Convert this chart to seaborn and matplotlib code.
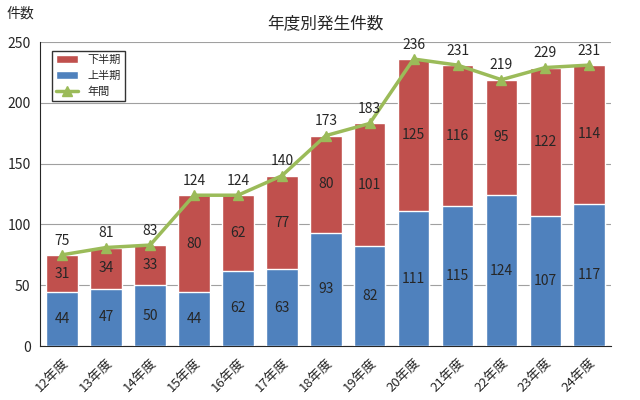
import matplotlib
matplotlib.use("Agg")
import matplotlib.pyplot as plt
import seaborn as sns
import pandas as pd
import numpy as np

sns.set_style("white")
plt.rcParams["font.family"] = "Noto Sans CJK JP"

years = ["12年度","13年度","14年度","15年度","16年度","17年度","18年度","19年度","20年度","21年度","22年度","23年度","24年度"]
first_half = [44,47,50,44,62,63,93,82,111,115,124,107,117]
second_half = [31,34,33,80,62,77,80,101,125,116,95,122,114]
annual = [75,81,83,124,124,140,173,183,236,231,219,229,231]

df = pd.DataFrame({"year": years, "first": first_half, "second": second_half, "total": annual})

fig, ax = plt.subplots(figsize=(6.4, 4.0), dpi=100)
fig.subplots_adjust(left=0.063, right=0.955, top=0.895, bottom=0.135)

x = np.arange(len(years))
ax.bar(x, df["total"], width=0.72, color="#C0504D", label="下半期", zorder=2)
sns.barplot(x="year", y="first", data=df, color="#4F81BD", width=0.72, ax=ax, label="上半期", zorder=3, saturation=1)
ax.plot(x, df["total"], color="#9BBB59", lw=2.5, marker="^", ms=7, label="年間", zorder=4)

for i in range(len(years)):
    ax.text(i, first_half[i] / 2, str(first_half[i]), ha="center", va="center", fontsize=10, zorder=5)
    ax.text(i, first_half[i] + second_half[i] / 2, str(second_half[i]), ha="center", va="center", fontsize=10, zorder=5)
    ax.text(i, annual[i] + 6, str(annual[i]), ha="center", va="bottom", fontsize=10, zorder=5)

ax.set_ylim(0, 250)
ax.set_xlim(-0.5, len(years) - 0.5)
ax.set_yticks(range(0, 251, 50))
ax.yaxis.grid(True, color="#a0a0a0", lw=0.8, zorder=0)
ax.set_axisbelow(True)
ax.set_xlabel("")
ax.set_ylabel("")
ax.set_xticks(x)
ax.set_xticklabels(years, rotation=45, ha="right", rotation_mode="anchor", fontsize=9.5)
ax.tick_params(axis="y", labelsize=10)
for s in ["top", "right"]:
    ax.spines[s].set_visible(False)
ax.set_title("年度別発生件数", fontsize=12, pad=10)
fig.text(0.01, 0.955, "件数", fontsize=10)

h, l = ax.get_legend_handles_labels()
order = [l.index("下半期"), l.index("上半期"), l.index("年間")]
ax.legend([h[i] for i in order], [l[i] for i in order], loc="upper left", fontsize=8,
          frameon=True, edgecolor="black", fancybox=False, bbox_to_anchor=(0.01, 0.99))

fig.savefig("out.png")
